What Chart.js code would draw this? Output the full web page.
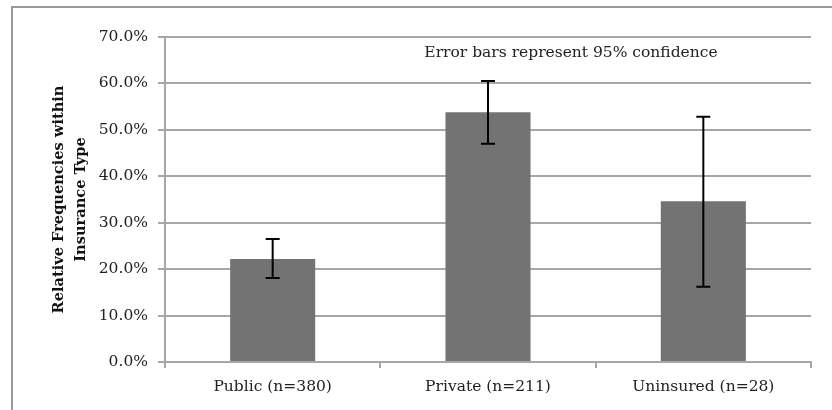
<!DOCTYPE html>
<html>
<head>
<meta charset="utf-8">
<script src="https://cdn.jsdelivr.net/npm/chart.js@4"></script>
<style>
  html, body { margin: 0; padding: 0; background: #fff; }
  #wrap { position: relative; width: 832px; height: 410px; }
</style>
</head>
<body>
<div id="wrap"><canvas id="chart"></canvas></div>
<script>
// data
const categories = ['Public (n=380)', 'Private (n=211)', 'Uninsured (n=28)'];
const frequencies = [22.2, 53.8, 34.6];
const errLow = [18.1, 47.0, 16.2];
const errHigh = [26.5, 60.5, 52.8];
const note = 'Error bars represent 95% confidence';

const serif = '"DejaVu Serif", serif';

// frame, error bars and the note
const extras = {
    id: 'extras',
    beforeDraw(chart) {
        const c = chart.ctx;
        c.save();
        c.fillStyle = '#fff';
        c.fillRect(0, 0, chart.width, chart.height);
        c.strokeStyle = '#9a9a9a';
        c.lineWidth = 2;
        c.beginPath();
        c.moveTo(12, chart.height);
        c.lineTo(12, 7);
        c.lineTo(chart.width, 7);
        c.stroke();
        c.restore();
    },
    afterDatasetsDraw(chart) {
        const c = chart.ctx;
        const x = chart.scales.x, y = chart.scales.y;
        c.save();
        c.strokeStyle = '#000';
        c.lineWidth = 2;
        categories.forEach((cat, i) => {
            const px = x.getPixelForValue(i);
            const top = y.getPixelForValue(errHigh[i]);
            const bot = y.getPixelForValue(errLow[i]);
            c.beginPath();
            c.moveTo(px, top); c.lineTo(px, bot);
            c.moveTo(px - 7, top); c.lineTo(px + 7, top);
            c.moveTo(px - 7, bot); c.lineTo(px + 7, bot);
            c.stroke();
        });
        c.fillStyle = '#222';
        c.font = '15.5px ' + serif;
        c.textAlign = 'center';
        c.textBaseline = 'middle';
        c.fillText(note, 571, y.getPixelForValue(66.5));
        c.restore();
    }
};

new Chart(document.getElementById('chart'), {
    type: 'bar',
    data: {
        labels: categories,
        datasets: [{
            data: frequencies,
            backgroundColor: '#737373',
            borderWidth: 0,
            categoryPercentage: 1,
            barPercentage: 0.395
        }]
    },
    options: {
        responsive: true,
        maintainAspectRatio: false,
        animation: false,
        layout: { padding: { top: 37, right: 21, bottom: 0, left: 0 } },
        plugins: { legend: { display: false }, tooltip: { enabled: false } },
        scales: {
            x: {
                grid: {
                    offset: true,
                    drawOnChartArea: false,
                    drawTicks: true,
                    tickLength: 6,
                    color: '#a6a6a6',
                    lineWidth: 2
                },
                border: { color: '#a6a6a6', width: 2 },
                ticks: {
                    color: '#222',
                    font: { family: serif, size: 15.5 },
                    padding: 10
                },
                afterFit(scale) { scale.height = 48; }
            },
            y: {
                min: 0,
                max: 70,
                grid: {
                    color: '#a6a6a6',
                    lineWidth: 2,
                    tickLength: 7
                },
                border: { color: '#a6a6a6', width: 2 },
                ticks: {
                    stepSize: 10,
                    color: '#222',
                    font: { family: serif, size: 15.5 },
                    padding: 10,
                    callback: v => v.toFixed(1) + '%'
                },
                title: {
                    display: true,
                    text: ['Relative Frequencies within', 'Insurance Type'],
                    color: '#111',
                    font: { family: serif, size: 14.6, weight: 'bold', lineHeight: 1.5 },
                    padding: { top: 48, bottom: 0 }
                },
                afterFit(scale) { scale.width = 165; }
            }
        }
    },
    plugins: [extras]
});
</script>
</body>
</html>
